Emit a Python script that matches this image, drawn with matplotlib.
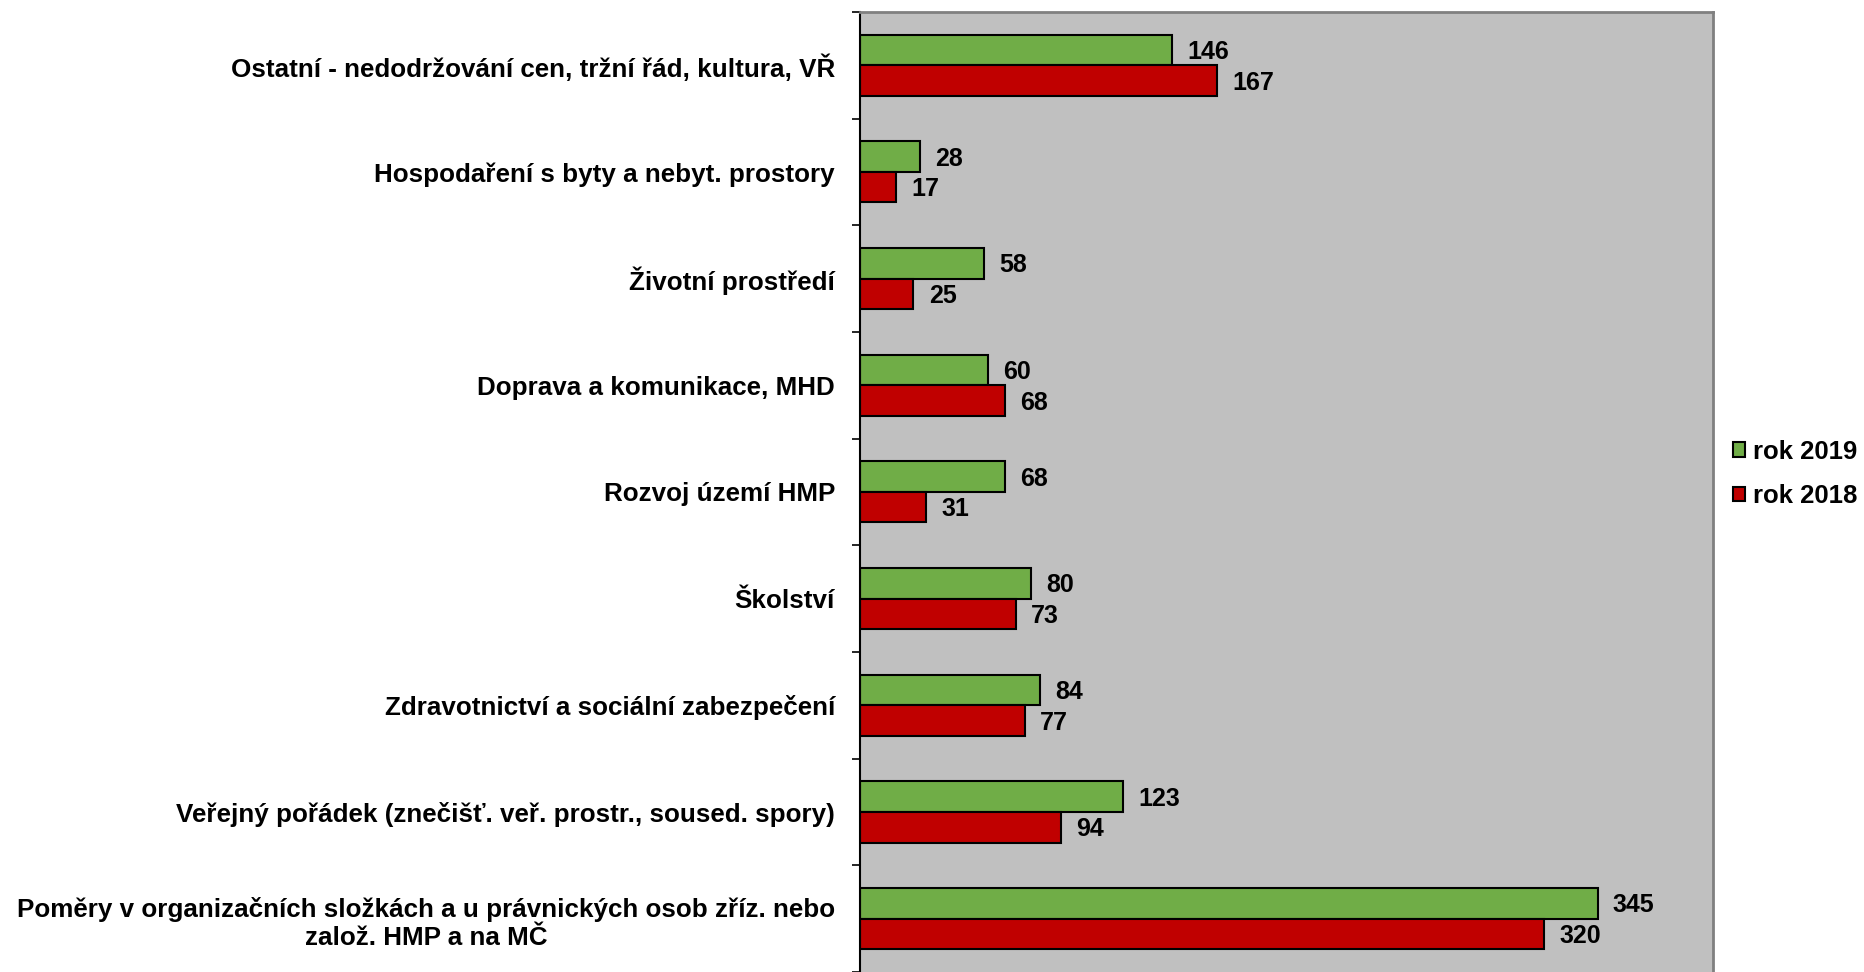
import matplotlib
matplotlib.use("Agg")
import matplotlib.pyplot as plt
import numpy as np

categories = [
    "Ostatní - nedodržování cen, tržní řád, kultura, VŘ",
    "Hospodaření s byty a nebyt. prostory",
    "Životní prostředí",
    "Doprava a komunikace, MHD",
    "Rozvoj území HMP",
    "Školství",
    "Zdravotnictví a sociální zabezpečení",
    "Veřejný pořádek (znečišť. veř. prostr., soused. spory)",
    "Poměry v organizačních složkách a u právnických osob zříz. nebo\nzalož. HMP a na MČ",
]
values_2019 = [146, 28, 58, 60, 68, 80, 84, 123, 345]
values_2018 = [167, 17, 25, 68, 31, 73, 77, 94, 320]
series_labels = ["rok 2019", "rok 2018"]

green = "#70AD47"
red = "#C00000"
bg = "#C0C0C0"

plt.rcParams["font.family"] = ["Liberation Sans", "DejaVu Sans"]
plt.rcParams["font.weight"] = "bold"

fig = plt.figure(figsize=(18.65, 9.72), dpi=100)
ax = fig.add_axes([0.4611, 0.0, 0.9185 - 0.4611, 0.9877])
ax.set_facecolor(bg)

n = len(categories)
y = np.arange(n)
h = 0.286
bars19 = ax.barh(y - h / 2, values_2019, height=h, color=green,
                 edgecolor="black", linewidth=1.5, label=series_labels[0])
bars18 = ax.barh(y + h / 2, values_2018, height=h, color=red,
                 edgecolor="black", linewidth=1.5, label=series_labels[1])

for bars, vals in ((bars19, values_2019), (bars18, values_2018)):
    for b, v in zip(bars, vals):
        ax.annotate(f"{v}", (v, b.get_y() + b.get_height() / 2),
                    xytext=(11, -1.5), textcoords="offset points",
                    ha="left", va="center", fontsize=18, fontweight="bold")

ax.set_xlim(0, 399)
ax.set_ylim(n - 0.5, -0.5)
ax.set_xticks([])
ax.set_yticks(y)
ax.set_yticklabels(categories, fontsize=18.7, fontweight="bold", ha="right",
                   multialignment="center", linespacing=1.25)
ax.set_yticks(np.arange(-0.5, n, 1.0), minor=True)
ax.tick_params(axis="y", which="major", length=0, pad=18)
ax.tick_params(axis="y", which="minor", length=6, width=1.2, color="black",
               direction="out")

ax.spines["left"].set_color("black")
ax.spines["left"].set_linewidth(1.5)
for s in ("top", "right"):
    ax.spines[s].set_color("#808080")
    ax.spines[s].set_linewidth(2)
ax.spines["bottom"].set_visible(False)

leg = fig.legend(loc="upper left", bbox_to_anchor=(0.929, 0.5476),
                 frameon=False, borderpad=0, borderaxespad=0,
                 handlelength=0.5, handleheight=0.5,
                 handletextpad=0.3, labelspacing=0.8,
                 prop={"weight": "bold", "size": 18.5})

fig.savefig("out.png", dpi=100)
